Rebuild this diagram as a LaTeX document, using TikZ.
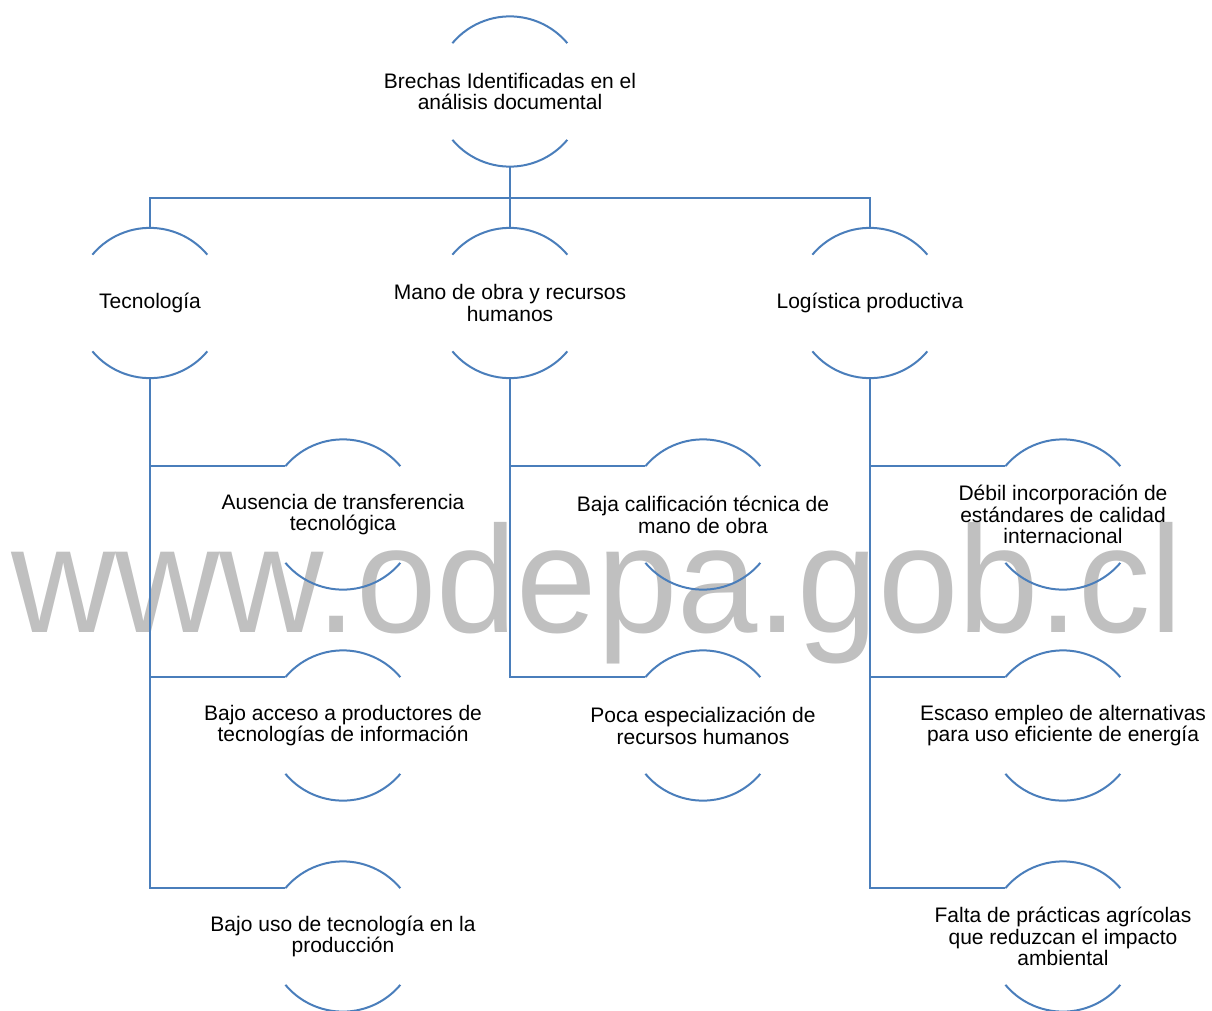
\documentclass[tikz,border=0pt]{standalone}
\usepackage{fontspec}
\setmainfont{Liberation Sans}
\definecolor{linec}{HTML}{4A7EBB}
\definecolor{wmgray}{HTML}{C0C0C0}
\begin{document}
\begin{tikzpicture}[x=1pt,y=1pt,
  gapc/.style={circle, minimum size=150pt, inner sep=0pt, draw=none},
  txt/.style={align=center, inner sep=0pt, font=\fontsize{21}{21.8}\selectfont, text=black},
  conn/.style={draw=linec, line width=2pt},
  wm/.style={anchor=base west, inner sep=0pt, text=wmgray, font=\fontsize{152}{152}\selectfont, xscale=0.95}]
\useasboundingbox (0,0) rectangle (1212,-1010);
\clip (0,0) rectangle (1212,-1010);
% watermark
\node[wm] (wmark) at (11,-632) {www.odepa.gob.cl};
% nodes
\node[gapc, label={[txt]center:Brechas Identificadas en el\\análisis documental}] (root) at (510,-91.5) {};
\node[gapc, label={[txt]center:Tecnología}] (tec) at (150,-303) {};
\node[gapc, label={[txt]center:Mano de obra y recursos\\humanos}] (man) at (510,-303) {};
\node[gapc, label={[txt]center:Logística productiva}] (log) at (870,-303) {};
\node[gapc, label={[txt]center:Ausencia de transferencia\\tecnológica}] (t1) at (343,-514.5) {};
\node[gapc, label={[txt]center:Bajo acceso a productores de\\tecnologías de información}] (t2) at (343,-725.5) {};
\node[gapc, label={[txt]center:Bajo uso de tecnología en la\\producción}] (t3) at (343,-936.5) {};
\node[gapc, label={[txt]center:Baja calificación técnica de\\mano de obra}] (m1) at (703,-514.5) {};
\node[gapc, label={[txt]center:Poca especialización de\\recursos humanos}] (m2) at (703,-725.5) {};
\node[gapc, label={[txt]center:Débil incorporación de\\estándares de calidad\\internacional}] (l1) at (1063,-514.5) {};
\node[gapc, label={[txt]center:Escaso empleo de alternativas\\para uso eficiente de energía}] (l2) at (1063,-725.5) {};
\node[gapc, label={[txt]center:Falta de prácticas agrícolas\\que reduzcan el impacto\\ambiental}] (l3) at (1063,-936.5) {};
% arcs
\foreach \n in {root,tec,man,log,t1,t2,t3,m1,m2,l1,l2,l3}{
  \draw[conn] (\n.140) arc[start angle=140, end angle=40, radius=75pt];
  \draw[conn] (\n.220) arc[start angle=220, end angle=320, radius=75pt];
}
% connectors
\coordinate (bus) at (510,-198);
\draw[conn] (root.south) -- (man.north);
\draw[conn] (tec.north) |- (bus -| log.north) -- (log.north);
\draw[conn] (tec.south) |- (t1.140);
\draw[conn] (tec.south) |- (t2.140);
\draw[conn] (tec.south) |- (t3.140);
\draw[conn] (man.south) |- (m1.140);
\draw[conn] (man.south) |- (m2.140);
\draw[conn] (log.south) |- (l1.140);
\draw[conn] (log.south) |- (l2.140);
\draw[conn] (log.south) |- (l3.140);
\end{tikzpicture}
\end{document}
